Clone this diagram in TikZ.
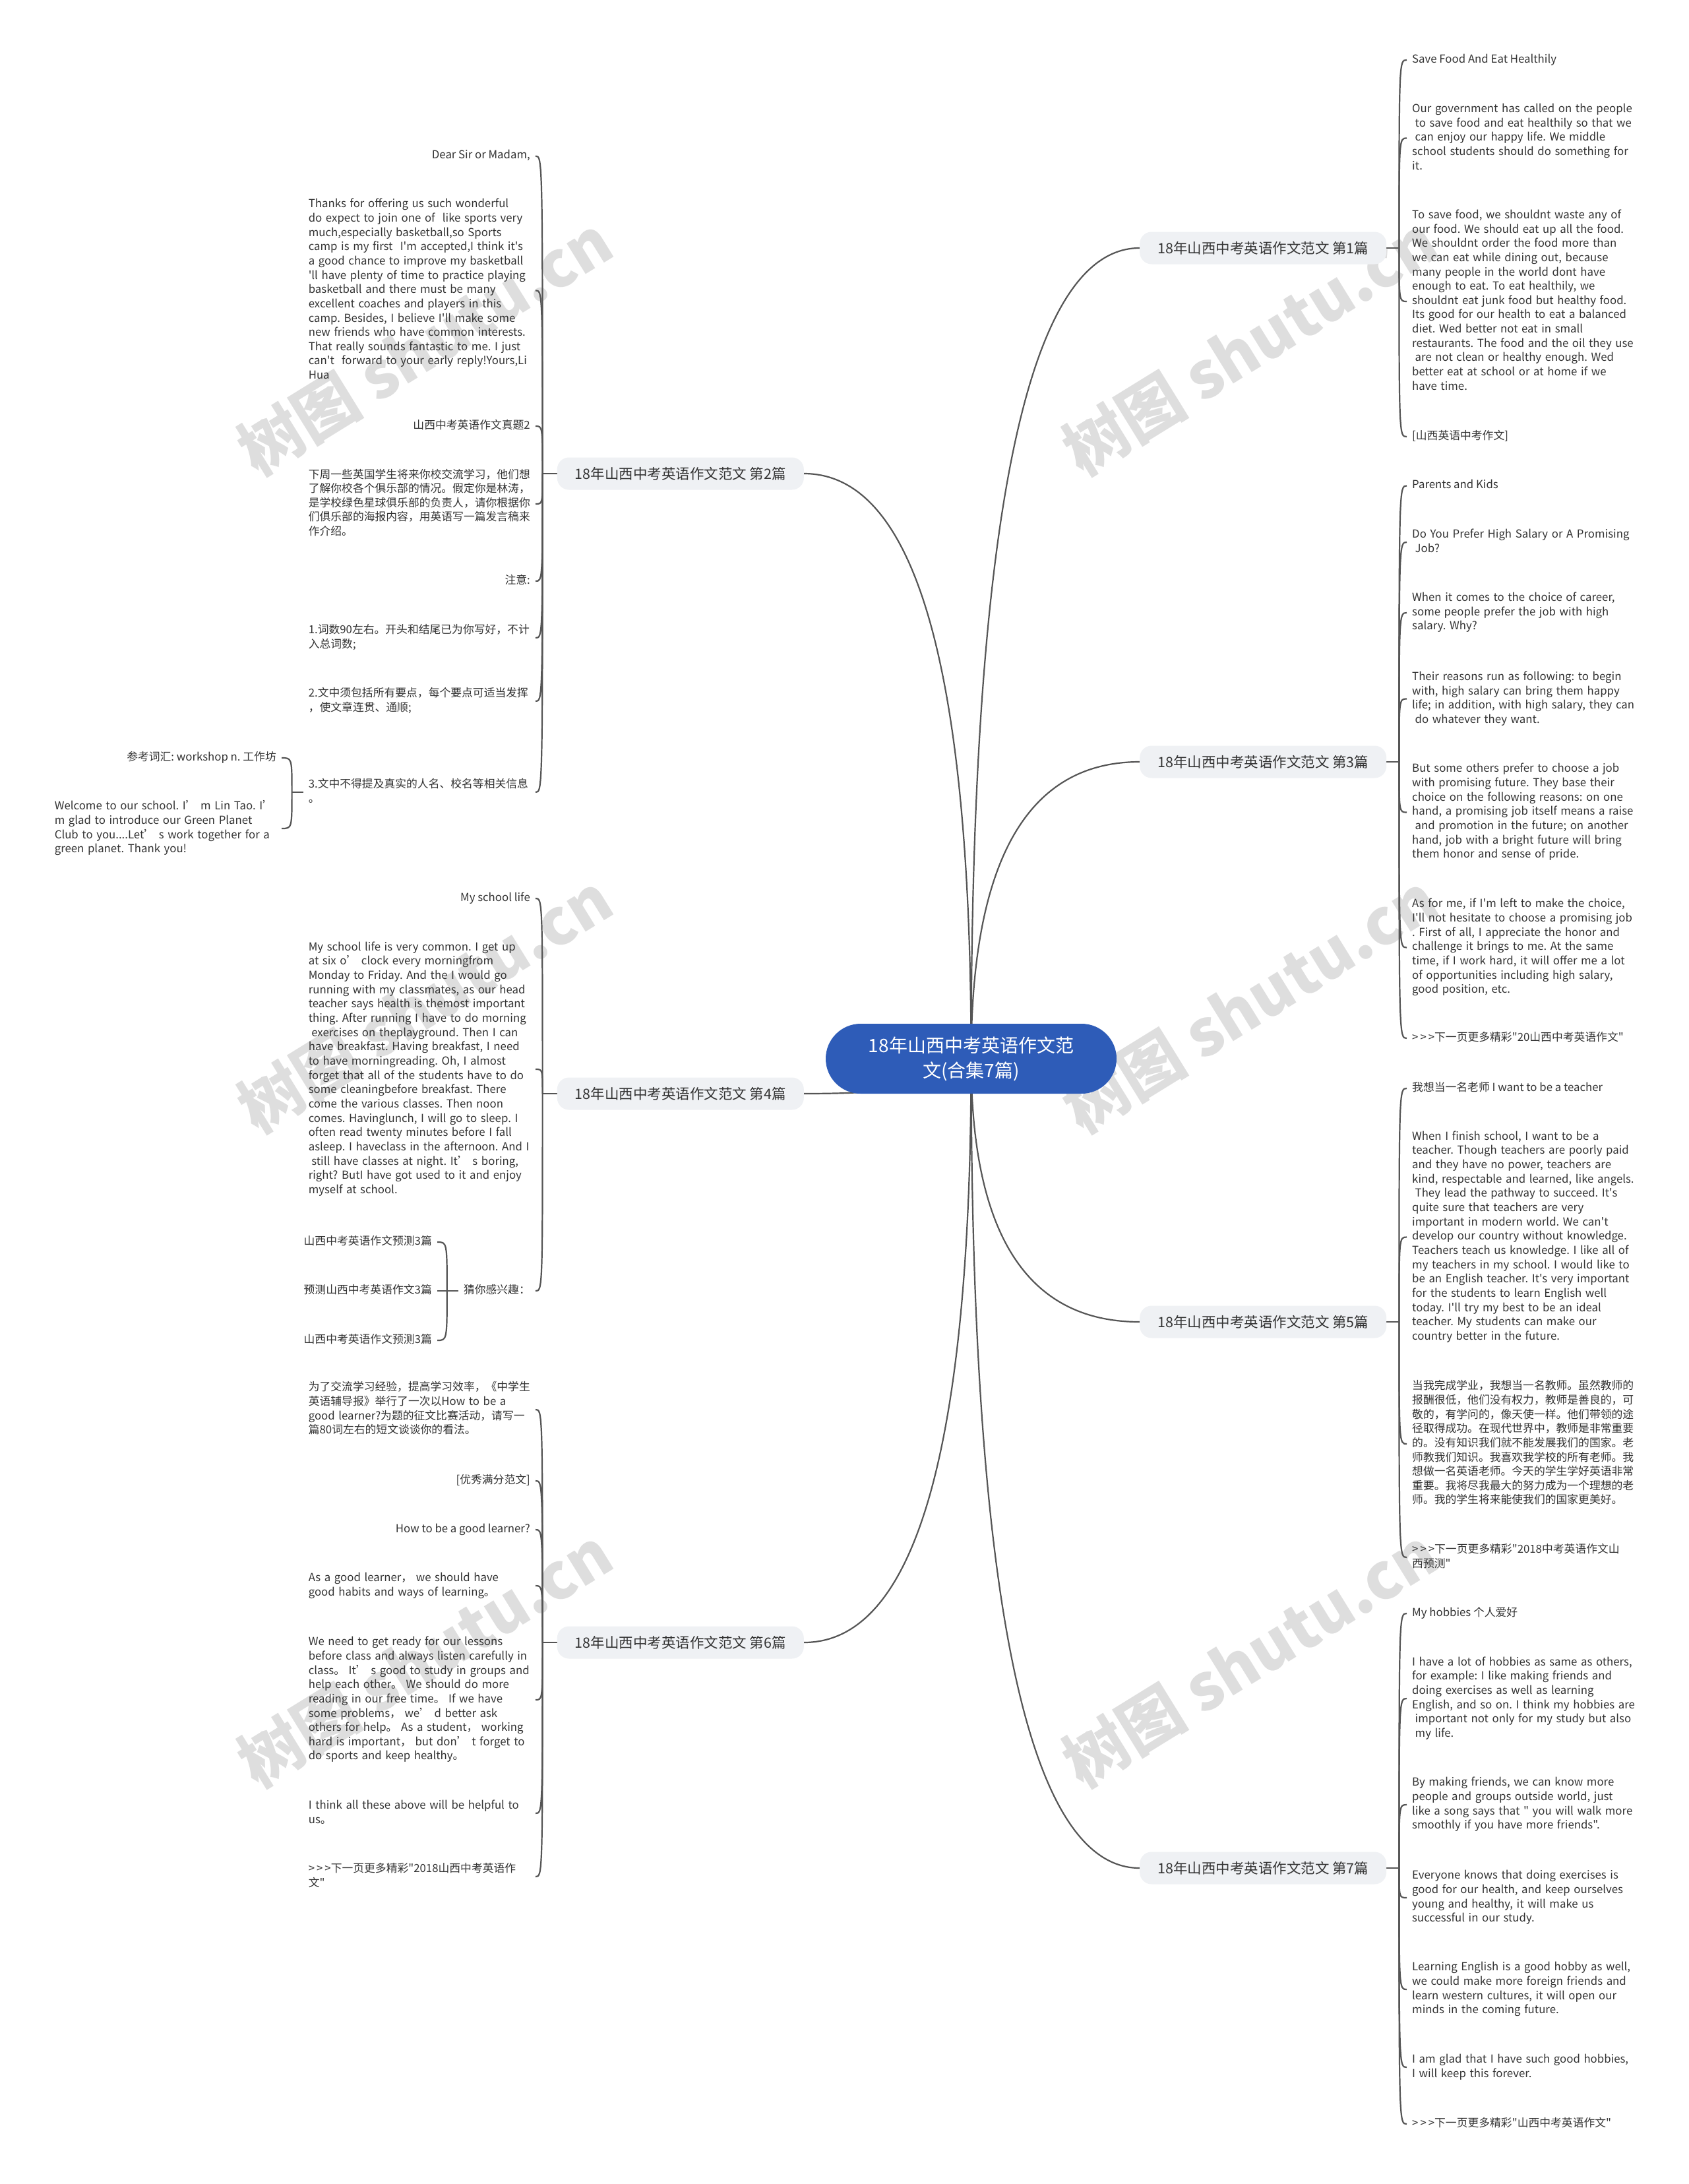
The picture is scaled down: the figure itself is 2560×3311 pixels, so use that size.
\documentclass[tikz,border=0pt]{standalone}
\usepackage{fontspec}
\newfontfamily\cjkf{Noto Sans CJK SC}
\usetikzlibrary{calc}
\pgfdeclarelayer{wm}
\pgfdeclarelayer{bg}
\pgfsetlayers{wm,bg,main}
\definecolor{linkc}{HTML}{555555}
\definecolor{txt}{HTML}{333333}
\definecolor{rootc}{HTML}{2E5CB8}
\definecolor{branchc}{HTML}{EFF1F4}
\newcommand\myind{\hspace*{4.5pt}}
\newcommand\mygt{>\hspace{3pt}>\hspace{3pt}>}
\newcommand\nobreaklines{\rightskip=0pt plus 1fil minus 80pt\relax\linepenalty=10000 \tolerance=10000 \pretolerance=-1 }
\tikzset{
  link/.style={draw=linkc, line width=2.2pt},
  root/.style={fill=rootc, rounded corners=53pt, minimum width=441pt, minimum height=106pt,
    text=white, font=\cjkf\fontsize{28}{38}\selectfont, align=center, inner sep=0pt},
  branch/.style={fill=branchc, rounded corners=18pt, minimum width=374pt, minimum height=49pt,
    text=txt, font=\cjkf\fontsize{21.5}{26}\selectfont, inner sep=0pt},
  leaf/.style={text=txt, font=\cjkf\fontsize{16.8}{21.65}\selectfont, inner xsep=8pt, inner ysep=0pt,
    execute at begin node=\noindent\strut, execute at end node=\strut},
  parabase/.style={text=txt, font=\cjkf\fontsize{16.8}{21.65}\selectfont, inner xsep=8pt, inner ysep=0pt,
    align=left, execute at begin node={\nobreaklines\strut}, execute at end node=\strut},
  para/.style={parabase, text width=336pt},
  rpara/.style={parabase, text width=345pt},
  wmark/.style={text=black!13, font=\cjkf\bfseries\fontsize{96}{106}\selectfont, rotate=31.7, inner sep=0pt},
}
\begin{document}
\frenchspacing
\begin{tikzpicture}[x=1pt,y=-1pt]
\begin{pgfonlayer}{wm}
\fill[white] (0,0) rectangle (2560,3311);
\foreach \i/\xx/\yy in {1/644/524,2/1895/524,3/644/1521,4/1895/1521,5/644/2513,6/1895/2513}
  \node[wmark] (wm\i) at (\xx,\yy) {树图 shutu.cn};
\end{pgfonlayer}
\useasboundingbox (0,0) rectangle (2560,3311);

% root
\node[root] (R) at (1472.5,1605) {18年山西中考英语作文范\\文(合集7篇)};

% branches
\node[branch, anchor=west] (b1) at (1728,376) {18年山西中考英语作文范文 第1篇};
\node[branch, anchor=east] (b2) at (1219,718) {18年山西中考英语作文范文 第2篇};
\node[branch, anchor=west] (b3) at (1728,1155) {18年山西中考英语作文范文 第3篇};
\node[branch, anchor=east] (b4) at (1219,1658) {18年山西中考英语作文范文 第4篇};
\node[branch, anchor=west] (b5) at (1728,2004) {18年山西中考英语作文范文 第5篇};
\node[branch, anchor=east] (b6) at (1219,2490) {18年山西中考英语作文范文 第6篇};
\node[branch, anchor=west] (b7) at (1728,2832) {18年山西中考英语作文范文 第7篇};

% ---- branch 1 children
\node[leaf, anchor=west] (c11) at (2133,91) {Save Food And Eat Healthily};
\node[rpara, anchor=west] (c12) at (2133,209.4) {Our government has called on the people\\
\myind to save food and eat healthily so that we\\
\myind can enjoy our happy life. We middle\\
school students should do something for\\
it.};
\node[rpara, anchor=west] (c13) at (2133,457) {To save food, we shouldnt waste any of\\
our food. We should eat up all the food.\\
We shouldnt order the food more than\\
we can eat while dining out, because\\
many people in the world dont have\\
enough to eat. To eat healthily, we\\
shouldnt eat junk food but healthy food.\\
Its good for our health to eat a balanced\\
diet. Wed better not eat in small\\
restaurants. The food and the oil they use\\
\myind are not clean or healthy enough. Wed\\
better eat at school or at home if we\\
have time.};
\node[leaf, anchor=west] (c14) at (2133,662) {[山西英语中考作文]};

% ---- branch 2 children
\node[leaf, anchor=east] (c21) at (812,236.6) {Dear Sir or Madam,};
\node[para, anchor=east] (c22) at (812,440.4) {Thanks for offering us such wonderful\\
do expect to join one of\ \ like sports very\\
much,especially basketball,so Sports\\
camp is my first\ \ I'm accepted,I think it's\\
a good chance to improve my basketball\\
'll have plenty of time to practice playing\\
basketball and there must be many\\
excellent coaches and players in this\\
camp. Besides, I believe I'll make some\\
new friends who have common interests.\\
That really sounds fantastic to me. I just\\
can't\ \ forward to your early reply!Yours,Li\\
Hua};
\node[leaf, anchor=east] (c23) at (812,646) {山西中考英语作文真题2};
\node[para, anchor=east] (c24) at (812,764) {下周一些英国学生将来你校交流学习，他们想\\
了解你校各个俱乐部的情况。假定你是林涛，\\
是学校绿色星球俱乐部的负责人，请你根据你\\
们俱乐部的海报内容，用英语写一篇发言稿来\\
作介绍。};
\node[leaf, anchor=east] (c25) at (812,881) {注意:};
\node[para, anchor=east] (c26) at (812,967) {1.词数90左右。开头和结尾已为你写好，不计\\
入总词数;};
\node[para, anchor=east] (c27) at (812,1063) {2.文中须包括所有要点，每个要点可适当发挥\\
，使文章连贯、通顺;};
\node[para, anchor=east] (c28) at (812,1201) {3.文中不得提及真实的人名、校名等相关信息\\
。};
\node[leaf, anchor=east] (c281) at (427,1149) {参考词汇: workshop n. 工作坊};
\node[para, anchor=east] (c282) at (427,1256) {Welcome to our school. I’ m Lin Tao. I’\\
m glad to introduce our Green Planet\\
Club to you....Let’ s work together for a\\
green planet. Thank you!};

% ---- branch 3 children
\node[leaf, anchor=west] (c31) at (2133,736.5) {Parents and Kids};
\node[rpara, anchor=west] (c32) at (2133,822) {Do You Prefer High Salary or A Promising\\
\myind Job?};
\node[rpara, anchor=west] (c33) at (2133,929) {When it comes to the choice of career,\\
some people prefer the job with high\\
salary. Why?};
\node[rpara, anchor=west] (c34) at (2133,1059.5) {Their reasons run as following: to begin\\
with, high salary can bring them happy\\
life; in addition, with high salary, they can\\
\myind do whatever they want.};
\node[rpara, anchor=west] (c35) at (2133,1231.5) {But some others prefer to choose a job\\
with promising future. They base their\\
choice on the following reasons: on one\\
hand, a promising job itself means a raise\\
\myind and promotion in the future; on another\\
hand, job with a bright future will bring\\
them honor and sense of pride.};
\node[rpara, anchor=west] (c36) at (2133,1436.5) {As for me, if I'm left to make the choice,\\
I'll not hesitate to choose a promising job\\
. First of all, I appreciate the honor and\\
challenge it brings to me. At the same\\
time, if I work hard, it will offer me a lot\\
of opportunities including high salary,\\
good position, etc.};
\node[leaf, anchor=west] (c37) at (2133,1574) {\mygt 下一页更多精彩"20山西中考英语作文"};

% ---- branch 4 children
\node[leaf, anchor=east] (c41) at (812,1362) {My school life};
\node[para, anchor=east] (c42) at (812,1621) {My school life is very common. I get up\\
at six o’ clock every morningfrom\\
Monday to Friday. And the I would go\\
running with my classmates, as our head\\
teacher says health is themost important\\
thing. After running I have to do morning\\
\myind exercises on theplayground. Then I can\\
have breakfast. Having breakfast, I need\\
to have morningreading. Oh, I almost\\
forget that all of the students have to do\\
some cleaningbefore breakfast. There\\
come the various classes. Then noon\\
comes. Havinglunch, I will go to sleep. I\\
often read twenty minutes before I fall\\
asleep. I haveclass in the afternoon. And I\\
\myind still have classes at night. It’ s boring,\\
right? ButI have got used to it and enjoy\\
myself at school.};
\node[leaf, anchor=east] (c43) at (812,1957) {猜你感兴趣：};
\node[leaf, anchor=east] (c431) at (663,1883) {山西中考英语作文预测3篇};
\node[leaf, anchor=east] (c432) at (663,1957) {预测山西中考英语作文3篇};
\node[leaf, anchor=east] (c433) at (663,2032) {山西中考英语作文预测3篇};

% ---- branch 5 children
\node[leaf, anchor=west] (c51) at (2133,1650) {我想当一名老师 I want to be a teacher};
\node[rpara, anchor=west] (c52) at (2133,1875.5) {When I finish school, I want to be a\\
teacher. Though teachers are poorly paid\\
and they have no power, teachers are\\
kind, respectable and learned, like angels.\\
\myind They lead the pathway to succeed. It's\\
quite sure that teachers are very\\
important in modern world. We can't\\
develop our country without knowledge.\\
Teachers teach us knowledge. I like all of\\
my teachers in my school. I would like to\\
be an English teacher. It's very important\\
for the students to learn English well\\
today. I'll try my best to be an ideal\\
teacher. My students can make our\\
country better in the future.};
\node[rpara, anchor=west] (c53) at (2133,2189) {当我完成学业，我想当一名教师。虽然教师的\\
报酬很低，他们没有权力，教师是善良的，可\\
敬的，有学问的，像天使一样。他们带领的途\\
径取得成功。在现代世界中，教师是非常重要\\
的。没有知识我们就不能发展我们的国家。老\\
师教我们知识。我喜欢我学校的所有老师。我\\
想做一名英语老师。今天的学生学好英语非常\\
重要。我将尽我最大的努力成为一个理想的老\\
师。我的学生将来能使我们的国家更美好。};
\node[rpara, anchor=west] (c54) at (2133,2361) {\mygt 下一页更多精彩"2018中考英语作文山\\
西预测"};

% ---- branch 6 children
\node[para, anchor=east] (c61) at (812,2137) {为了交流学习经验，提高学习效率，《中学生\\
英语辅导报》举行了一次以How to be a\\
good learner?为题的征文比赛活动，请写一\\
篇80词左右的短文谈谈你的看法。};
\node[leaf, anchor=east] (c62) at (812,2245) {[优秀满分范文]};
\node[leaf, anchor=east] (c63) at (812,2319) {How to be a good learner?};
\node[para, anchor=east] (c64) at (812,2404) {As a good learner， we should have\\
good habits and ways of learning。};
\node[para, anchor=east] (c65) at (812,2577) {We need to get ready for our lessons\\
before class and always listen carefully in\\
class。 It’ s good to study in groups and\\
help each other。 We should do more\\
reading in our free time。 If we have\\
some problems， we’ d better ask\\
others for help。 As a student， working\\
hard is important， but don’ t forget to\\
do sports and keep healthy。};
\node[para, anchor=east] (c66) at (812,2749) {I think all these above will be helpful to\\
us。};
\node[para, anchor=east] (c67) at (812,2845) {\mygt 下一页更多精彩"2018山西中考英语作\\
文"};

% ---- branch 7 children
\node[leaf, anchor=west] (c71) at (2133,2446) {My hobbies 个人爱好};
\node[rpara, anchor=west] (c72) at (2133,2575) {I have a lot of hobbies as same as others,\\
for example: I like making friends and\\
doing exercises as well as learning\\
English, and so on. I think my hobbies are\\
\myind important not only for my study but also\\
\myind my life.};
\node[rpara, anchor=west] (c73) at (2133,2736) {By making friends, we can know more\\
people and groups outside world, just\\
like a song says that " you will walk more\\
smoothly if you have more friends".};
\node[rpara, anchor=west] (c74) at (2133,2877) {Everyone knows that doing exercises is\\
good for our health, and keep ourselves\\
young and healthy, it will make us\\
successful in our study.};
\node[rpara, anchor=west] (c75) at (2133,3016) {Learning English is a good hobby as well,\\
we could make more foreign friends and\\
learn western cultures, it will open our\\
minds in the coming future.};
\node[rpara, anchor=west] (c76) at (2133,3134) {I am glad that I have such good hobbies,\\
I will keep this forever.};
\node[leaf, anchor=west] (c77) at (2133,3220) {\mygt 下一页更多精彩"山西中考英语作文"};

% ---- connectors
\begin{pgfonlayer}{bg}
\foreach \b/\a in {b1/west,b2/east,b3/west,b4/east,b5/west,b6/east,b7/west}{
  \coordinate (k\b) at (R.center |- \b.\a);
  \draw[link] (R.center) .. controls ($(R.center)!0.667!(k\b)$) and ($(\b.\a)!0.667!(k\b)$) .. (\b.\a);
}
% right hubs
\coordinate (h1) at ($(b1.east)+(19,0)$);
\coordinate (h3) at ($(b3.east)+(19,0)$);
\coordinate (h5) at ($(b5.east)+(19,0)$);
\coordinate (h7) at ($(b7.east)+(19,0)$);
\draw[link] (b1.east) -- (h1);
\draw[link] (b3.east) -- (h3);
\draw[link] (b5.east) -- (h5);
\draw[link] (b7.east) -- (h7);
\foreach \c in {c11,c12,c13,c14}
  \draw[link] (h1) .. controls (h1 |- \c.west) and (h1 |- \c.west) .. (\c.west);
\foreach \c in {c31,c32,c33,c34,c35,c36,c37}
  \draw[link] (h3) .. controls (h3 |- \c.west) and (h3 |- \c.west) .. (\c.west);
\foreach \c in {c51,c52,c53,c54}
  \draw[link] (h5) .. controls (h5 |- \c.west) and (h5 |- \c.west) .. (\c.west);
\foreach \c in {c71,c72,c73,c74,c75,c76,c77}
  \draw[link] (h7) .. controls (h7 |- \c.west) and (h7 |- \c.west) .. (\c.west);
% left hubs
\coordinate (h2) at ($(b2.west)+(-22,0)$);
\coordinate (h4) at ($(b4.west)+(-22,0)$);
\coordinate (h6) at ($(b6.west)+(-22,0)$);
\draw[link] (b2.west) -- (h2);
\draw[link] (b4.west) -- (h4);
\draw[link] (b6.west) -- (h6);
\foreach \c in {c21,c22,c23,c24,c25,c26,c27,c28}
  \draw[link] (h2) .. controls (h2 |- \c.east) and (h2 |- \c.east) .. (\c.east);
\foreach \c in {c41,c42,c43}
  \draw[link] (h4) .. controls (h4 |- \c.east) and (h4 |- \c.east) .. (\c.east);
\foreach \c in {c61,c62,c63,c64,c65,c66,c67}
  \draw[link] (h6) .. controls (h6 |- \c.east) and (h6 |- \c.east) .. (\c.east);
% sub hubs
\coordinate (h28) at ($(c28.west)+(-17,0)$);
\draw[link] (c28.west) -- (h28);
\foreach \c in {c281,c282}
  \draw[link] (h28) .. controls (h28 |- \c.east) and (h28 |- \c.east) .. (\c.east);
\coordinate (h43) at ($(c43.west)+(-17,0)$);
\draw[link] (c43.west) -- (h43);
\foreach \c in {c431,c432,c433}
  \draw[link] (h43) .. controls (h43 |- \c.east) and (h43 |- \c.east) .. (\c.east);
\end{pgfonlayer}
\end{tikzpicture}
\end{document}
